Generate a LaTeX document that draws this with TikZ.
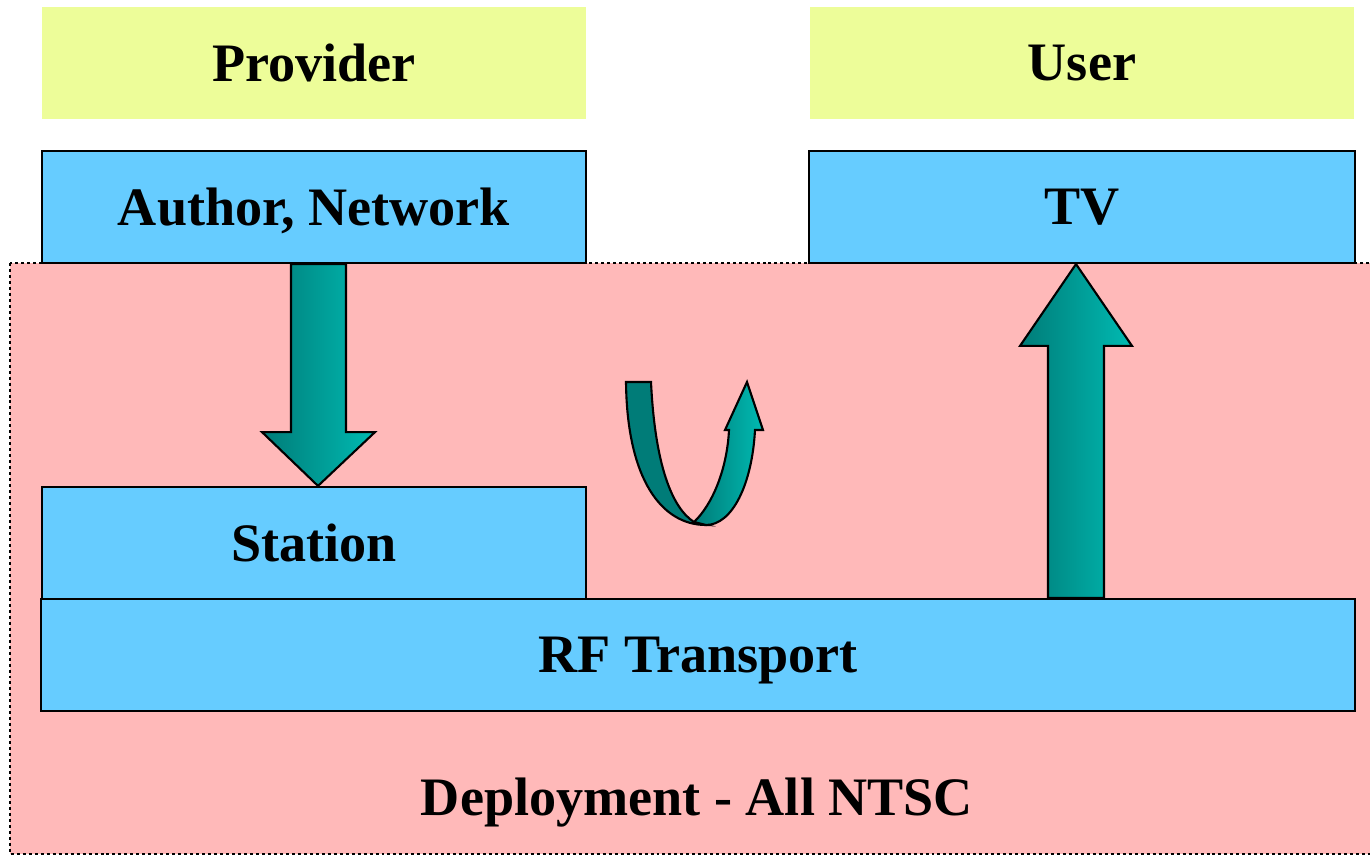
\documentclass[tikz,border=0pt]{standalone}
\usepackage{fontspec}
\setmainfont{Liberation Serif}
\usetikzlibrary{calc}
\definecolor{titlebg}{HTML}{EDFD99}
\definecolor{layerbg}{HTML}{66CCFF}
\definecolor{deploybg}{HTML}{FFB9B9}
\definecolor{tealdark}{HTML}{007C78}
\definecolor{teallight}{HTML}{00BAB2}
\tikzset{ caption/.style={font=\fontsize{15.4}{18}\selectfont\bfseries, text depth=0pt},
  title/.style={caption, fill=titlebg, minimum width=5.44cm, minimum height=1.12cm},
  layer/.style 2 args={caption, draw=black, line width=0.6pt, fill=layerbg, minimum width=#1cm, minimum height=#2cm},
  flow/.style={draw=black, line width=0.6pt, left color=tealdark, right color=teallight} }

\begin{document}
\begin{tikzpicture}[x=0.01cm, y=-0.01cm]
  \useasboundingbox (0, 0) rectangle (1370, 855);
	% deployment area
	\draw[fill=deploybg, line width=0.85pt, dash pattern=on 0.85pt off 0.85pt] (10, 263) rectangle (1375, 854);
	\node[title] (provider) at (314, 63) {Provider};
	\node[title] (user) at (1082, 63) {User};
	\node[layer={5.44}{1.12}] (author) at (314, 207) {Author, Network};
	\node[layer={5.45}{1.12}] (tv) at (1082, 207) {TV};
	\node[layer={5.44}{1.12}] (station) at (314, 543) {Station};
	\node[layer={13.13}{1.12}] (rf) at (698, 655) {RF Transport};
	\node[caption] (deploy) at (697, 797) {Deployment - All NTSC};
	% down arrow: author -> station
	\shadedraw[flow] ($(author.south)+(-23, 0)$) -- ($(author.south)+(32, 0)$) -- ($(author.south)+(32, 168)$)
	  -- ($(author.south)+(61, 168)$) -- ($(station.north)+(4, 0)$) -- ($(author.south)+(-52, 168)$)
	  -- ($(author.south)+(-23, 168)$) -- cycle;
	% up arrow: rf -> tv
	\shadedraw[flow] ($(rf.north)+(350, 0)$) -- ($(rf.north)+(406, 0)$) -- ($(rf.north)+(406, -252)$)
	  -- ($(rf.north)+(434, -252)$) -- ($(tv.south)+(-6, 0)$) -- ($(rf.north)+(322, -252)$)
	  -- ($(rf.north)+(350, -252)$) -- cycle;
	% u-turn
	\draw[fill=tealdark, line width=0.6pt] (626, 382) -- (651, 382) .. controls (655, 465) and (672, 508) .. (694, 522)
	  -- (706, 525) .. controls (662, 525) and (627, 480) .. (626, 382) -- cycle;
	\shadedraw[flow] (694, 522) .. controls (712, 505) and (727, 470) .. (729, 430) -- (725, 430) -- (747, 382)
	  -- (763, 430) -- (755, 430) .. controls (752, 485) and (732, 525) .. (706, 525) -- cycle;
\end{tikzpicture}
\end{document}
